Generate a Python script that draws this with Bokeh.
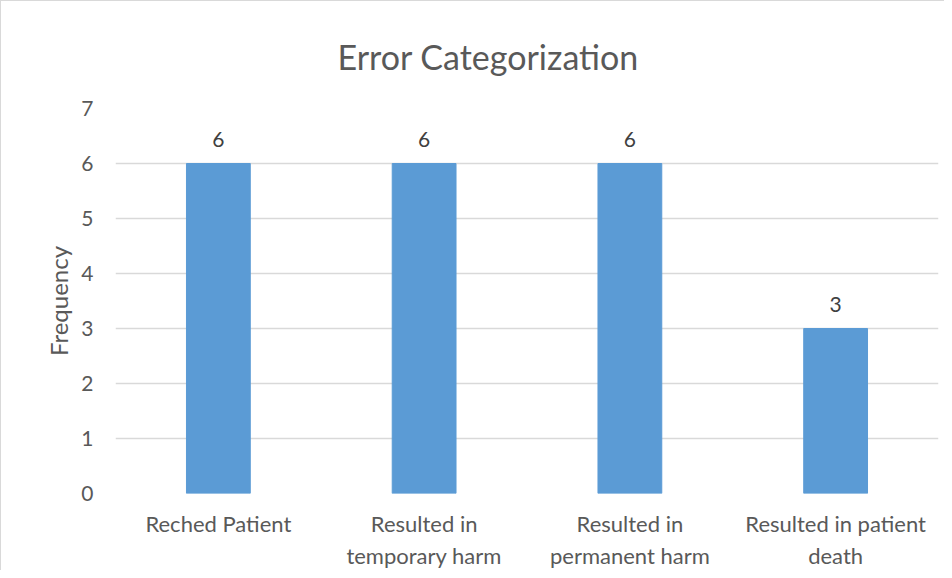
from bokeh.plotting import figure
from bokeh.models import ColumnDataSource, FixedTicker, Range1d
from bokeh.core.properties import value
from bokeh.embed import file_html
from bokeh.resources import INLINE

categories = ["Reched Patient", "Resulted in\ntemporary harm", "Resulted in\npermanent harm", "Resulted in patient\ndeath"]
frequency = [6, 6, 6, 3]
y_ticks = [0, 1, 2, 3, 4, 5, 6, 7]
title_text = "Error Categorization"

FONT = "Lato"
xs = list(range(len(categories)))
src = ColumnDataSource(dict(x=xs, y=frequency, label=[str(v) for v in frequency]))

p = figure(width=944, height=570, output_backend="svg", toolbar_location=None,
           x_range=Range1d(-0.5, len(categories) - 0.5), y_range=Range1d(0, 7),
           min_border_left=114, min_border_right=7, min_border_top=106, min_border_bottom=70,
           title=title_text)
p.styles = {"border-left": "1px solid #d9d9d9", "border-top": "1px solid #d9d9d9"}
p.outline_line_color = None
p.background_fill_color = "white"
p.border_fill_color = "white"

p.title.align = "left"
p.title.offset = 222
p.title.standoff = 64
p.title.text_font = FONT
p.title.text_font_size = "34px"
p.title.text_font_style = "normal"
p.title.text_color = "#595959"

p.vbar(x="x", top="y", width=0.31, source=src, color="#5B9BD5")
p.text(x="x", y="y", text="label", source=src, text_align="center", text_baseline="bottom",
       y_offset=-17, text_font=value(FONT), text_font_size="21px", text_color="#404040")

p.xgrid.visible = False
p.ygrid.grid_line_color = "#d9d9d9"
p.ygrid.grid_line_width = 1.5
p.ygrid.ticker = FixedTicker(ticks=y_ticks)

p.yaxis.ticker = FixedTicker(ticks=y_ticks)
p.yaxis.axis_line_color = None
p.yaxis.major_tick_line_color = None
p.yaxis.minor_tick_line_color = None
p.yaxis.major_label_standoff = 16
p.yaxis.major_label_text_font = FONT
p.yaxis.major_label_text_font_size = "21px"
p.yaxis.major_label_text_color = "#595959"
p.yaxis.axis_label = "Frequency"
p.yaxis.axis_label_text_font = FONT
p.yaxis.axis_label_text_font_size = "24px"
p.yaxis.axis_label_text_font_style = "normal"
p.yaxis.axis_label_text_color = "#595959"
p.yaxis.axis_label_standoff = 5

p.xaxis.ticker = FixedTicker(ticks=xs)
p.xaxis.major_label_overrides = {i: c for i, c in zip(xs, categories)}
p.xaxis.axis_line_color = None
p.xaxis.major_tick_line_color = None
p.xaxis.minor_tick_line_color = None
p.xaxis.major_label_standoff = 10
p.xaxis.major_label_text_font = FONT
p.xaxis.major_label_text_font_size = "22px"
p.xaxis.major_label_text_color = "#595959"

open("out.html", "w").write(file_html(p, INLINE))
